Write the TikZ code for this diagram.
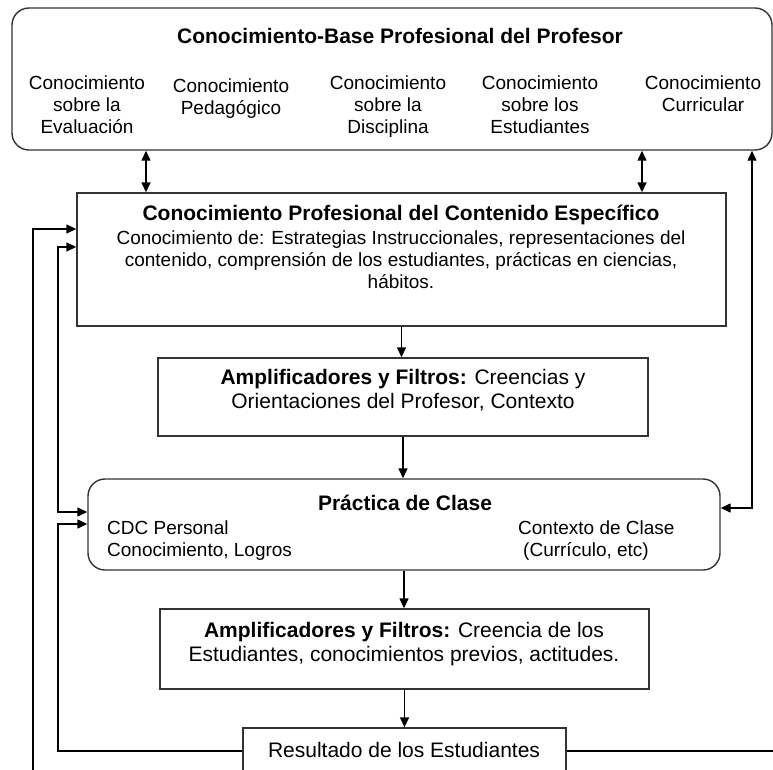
\documentclass[tikz,border=0pt]{standalone}
\usepackage{fontspec}
\setmainfont{Liberation Sans}
\usetikzlibrary{arrows.meta}

\begin{document}
\begin{tikzpicture}[x=1pt,y=-1pt,
  box/.style={draw=black!80, line width=1.4pt, inner sep=0pt},
  rbox/.style={box, rounded corners=17pt},
  conn/.style={draw=black, line width=1.4pt, -{Triangle[length=10pt,width=9pt]}},
  dconn/.style={draw=black, line width=1.4pt, {Triangle[length=10pt,width=9pt]}-{Triangle[length=10pt,width=9pt]}},
  plain/.style={draw=black, line width=1.4pt},
  small/.style={font=\fontsize{19}{22}\selectfont, inner sep=0pt, align=center},
  large/.style={font=\fontsize{21}{24}\selectfont, inner sep=0pt, align=center},
]
\useasboundingbox (0,0) rectangle (773,769);
\clip (0,0) rectangle (773,769);

% boxes
\node[rbox, minimum width=760pt, minimum height=142pt] (base) at (392,79) {};
\node[box, minimum width=649pt, minimum height=133pt] (cpce) at (401.5,259.5) {};
\node[box, minimum width=490pt, minimum height=78pt] (amp1) at (403,397) {};
\node[rbox, minimum width=632pt, minimum height=91pt] (prac) at (404,524.5) {};
\node[box, minimum width=489pt, minimum height=80pt] (amp2) at (404.5,649) {};
\node[box, minimum width=323pt, minimum height=62pt] (res) at (404.5,759) {};

% texts of the knowledge base (multi-line nodes sit on the baseline of their last line)
\node[large, anchor=base] (basetitle) at (400,43) {\textbf{Conocimiento-Base Profesional del Profesor}};
\node[small, anchor=base] (ev) at (87,133) {Conocimiento\\sobre la\\Evaluación};
\node[small, anchor=base] (ped) at (231,114) {Conocimiento\\Pedagógico};
\node[small, anchor=base] (dis) at (388,133) {Conocimiento\\sobre la\\Disciplina};
\node[small, anchor=base] (est) at (540,133) {Conocimiento\\sobre los\\Estudiantes};
\node[small, anchor=base] (cur) at (703,111) {Conocimiento\\Curricular};

% content knowledge
\node[large, anchor=base] (cpcetitle) at (401,220) {\textbf{Conocimiento Profesional del Contenido Específico}};
\node[small, anchor=base] (cpcetext) at (401,288) {Conocimiento de: Estrategias Instruccionales, representaciones del\\contenido, comprensión de los estudiantes, prácticas en ciencias,\\hábitos.};

% filters of the teacher
\node[large, anchor=base] (amp1text) at (403,408) {\textbf{Amplificadores y Filtros:} Creencias y\\Orientaciones del Profesor, Contexto};

% classroom practice
\node[large, anchor=base] (practitle) at (405,510) {\textbf{Práctica de Clase}};
\node[small, anchor=base west, align=left] (cdc) at (107,556) {CDC Personal\\Conocimiento, Logros};
\node[small, anchor=base west, align=left] (ctx) at (518,556) {Contexto de Clase\\\hspace*{5pt}(Currículo, etc)};

% filters of the students
\node[large, anchor=base] (amp2text) at (404,661) {\textbf{Amplificadores y Filtros:} Creencia de los\\Estudiantes, conocimientos previos, actitudes.};

% outcome
\node[large, anchor=base] (restext) at (404,757) {Resultado de los Estudiantes};

% helper coordinates for the routed connectors
\coordinate (xa) at (146,0);
\coordinate (xb) at (642,0);
\coordinate (xr) at (752,0);
\coordinate (xo) at (33,0);
\coordinate (xi) at (58,0);
\coordinate (ya) at (0,229);
\coordinate (yb) at (0,247);
\coordinate (yc) at (0,508);
\coordinate (yd) at (0,512);
\coordinate (ye) at (0,524);
\coordinate (yf) at (0,751);
\coordinate (ybot) at (0,790);
\coordinate (xend) at (790,0);

% connectors
\draw[dconn] (base.south -| xa) -- (cpce.north -| xa);
\draw[dconn] (base.south -| xb) -- (cpce.north -| xb);
\draw[conn] (cpce.south) -- (cpce.south |- amp1.north);
\draw[conn] (amp1.south) -- (amp1.south |- prac.north);
\draw[conn] (prac.south) -- (prac.south |- amp2.north);
\draw[conn] (amp2.south) -- (amp2.south |- res.north);
\draw[dconn] (base.south -| xr) -- (xr |- yc) -- (prac.east |- yc);
\draw[conn] (xo |- ybot) -- (xo |- ya) -- (cpce.west |- ya);
\draw[dconn] (cpce.west |- yb) -- (xi |- yb) -- (xi |- yd) -- (prac.west |- yd);
\draw[conn] (res.west |- yf) -- (xi |- yf) -- (xi |- ye) -- (prac.west |- ye);
\draw[plain] (res.east |- yf) -- (xend |- yf);
\end{tikzpicture}
\end{document}
